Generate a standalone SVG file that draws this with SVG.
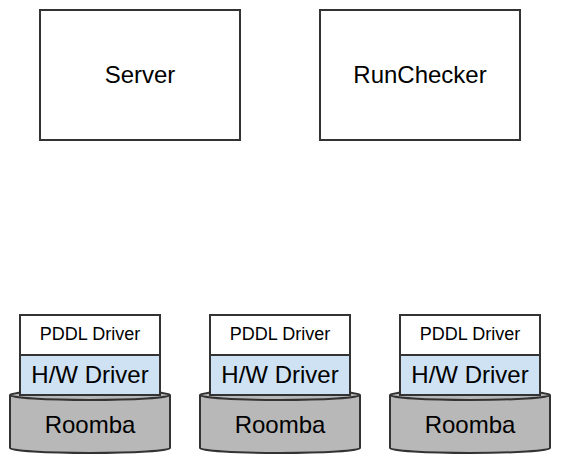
<svg xmlns="http://www.w3.org/2000/svg" width="570" height="475" viewBox="0 0 570 475">
<style>
.box{fill:#ffffff;stroke:#333333;stroke-width:2}
.hw{fill:#cfe2f3;stroke:#333333;stroke-width:2}
.cyl{fill:#b8b8b8;stroke:#333333;stroke-width:2}
text{font-family:"Liberation Sans",Arial,sans-serif;fill:#000000;text-anchor:middle;dominant-baseline:central}
.big{font-size:24px}
.pddl{font-size:18px}
.lbl{font-size:24px}
</style>
<defs>
<g id="stack">
<path class="cyl" d="M0,80 A80,5 0 0 1 160,80 L160,133 A80,5 0 0 1 0,133 Z"/>
<path class="cyl" d="M0,80 A80,5 0 0 0 160,80" fill="none"/>
<rect class="box" x="10" y="0" width="140" height="40"/>
<rect class="hw" x="10" y="40" width="140" height="40"/>
<text class="pddl" x="80" y="18.5">PDDL Driver</text>
<text class="lbl" x="80" y="59">H/W Driver</text>
<text class="lbl" x="80" y="109">Roomba</text>
</g>
</defs>
<g id="connectors"></g>
<g id="server">
<rect class="box" x="40" y="10" width="200" height="130"/>
<text class="big" x="140" y="74">Server</text>
</g>
<g id="runchecker">
<rect class="box" x="320" y="10" width="200" height="130"/>
<text class="big" x="420" y="74">RunChecker</text>
</g>
<g id="robot1"><use href="#stack" x="10" y="315"/></g>
<g id="robot2"><use href="#stack" x="200" y="315"/></g>
<g id="robot3"><use href="#stack" x="390" y="315"/></g>
</svg>
